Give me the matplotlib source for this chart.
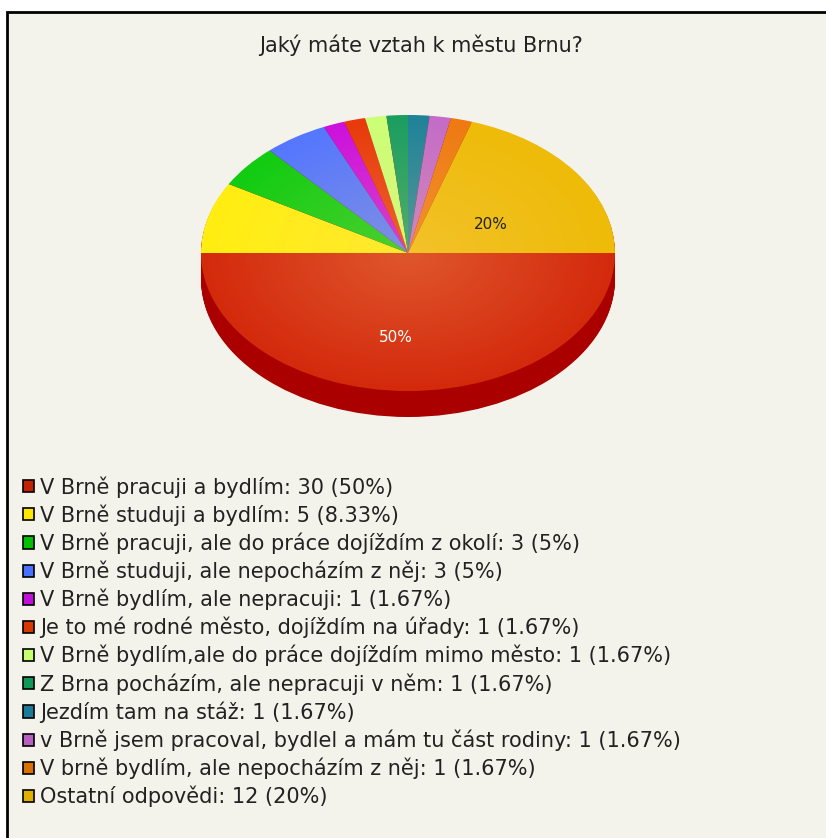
import numpy as np
import matplotlib.pyplot as plt
from matplotlib.patches import Rectangle, Circle

plt.rcParams['font.family'] = ['DejaVu Sans']

title = 'Jaký máte vztah k městu Brnu?'
answers = ['V Brně pracuji a bydlím', 'V Brně studuji a bydlím',
           'V Brně pracuji, ale do práce dojíždím z okolí',
           'V Brně studuji, ale nepocházím z něj', 'V Brně bydlím, ale nepracuji',
           'Je to mé rodné město, dojíždím na úřady',
           'V Brně bydlím,ale do práce dojíždím mimo město',
           'Z Brna pocházím, ale nepracuji v něm', 'Jezdím tam na stáž',
           'v Brně jsem pracoval, bydlel a mám tu část rodiny',
           'V brně bydlím, ale nepocházím z něj', 'Ostatní odpovědi']
counts = [30, 5, 3, 3, 1, 1, 1, 1, 1, 1, 1, 12]
percents = ['50%', '8.33%', '5%', '5%', '1.67%', '1.67%', '1.67%', '1.67%',
            '1.67%', '1.67%', '1.67%', '20%']
colors = ['#d42a0c', '#ffee11', '#11cc11', '#5577ff', '#cc11dd', '#e83a0c',
          '#ccff77', '#1a9e60', '#1f8299', '#c46cc8', '#ee7a11', '#eebb08']
legend_colors = ['#c42000', '#ffe600', '#00c000', '#4a70ff', '#c010d8', '#d83800',
                 '#c8ff70', '#109858', '#1a7a98', '#b860c0', '#d87000', '#e0b000']

fig = plt.figure(figsize=(8.26, 8.38), dpi=100)
fig.patch.set_facecolor('white')
# chart frame
fig.patches.append(Rectangle((7 / 826, -0.1), 1.2, 1 - 12 / 838 + 0.1,
                             transform=fig.transFigure, facecolor='#f4f3eb',
                             edgecolor='black', linewidth=2, zorder=-5))

fig.text(421 / 826, 1 - 45 / 838, title, ha='center', va='center',
         fontsize=15, color='#222222')

# pie axes: unit circle -> ellipse
W, H = 826, 838
cx, cy, rx, ry = 408, 253, 207, 138
ax = fig.add_axes([(cx - rx) / W, (H - cy - ry) / H, 2 * rx / W, 2 * ry / H])
ax.set_zorder(2)
depth = 26 / ry

# side of the pie (layers shifted down)
n = 30
for i in range(n, 0, -1):
    ax.pie(counts, colors=['#aa0000'] * len(counts),
           startangle=0, counterclock=False, center=(0, -depth * i / n),
           radius=1, wedgeprops=dict(linewidth=0))

wedges, texts, autotexts = ax.pie(
    counts, colors=colors, startangle=0, counterclock=False,
    autopct=lambda p: f'{p:.0f}%' if p >= 15 else '', pctdistance=0.58,
    radius=1, wedgeprops=dict(linewidth=0), textprops=dict(fontsize=11))
for t, c in zip(autotexts, counts):
    t.set_zorder(10)
    t.set_color('white' if c == max(counts) else '#222222')
autotexts[0].set_position((-0.06, -0.61))
autotexts[-1].set_position((0.40, 0.21))

# soft radial highlight on the top face
yy, xx = np.mgrid[-1:1:300j, -1:1:300j]
r = np.sqrt(xx ** 2 + yy ** 2)
glow = np.zeros((300, 300, 4))
glow[..., 0] = 1.0
glow[..., 1] = 0.85
glow[..., 2] = 0.55
glow[..., 3] = np.clip(0.26 * (1 - r), 0, 1)
im = ax.imshow(glow, extent=(-1, 1, -1, 1), origin='lower', zorder=5,
               interpolation='bilinear')
clip = Circle((0, 0), 1, transform=ax.transData)
im.set_clip_path(clip)

ax.set_aspect('auto')
ax.set_xlim(-1, 1)
ax.set_ylim(-1 - depth, 1)
ax.set_position([(cx - rx) / W, (H - cy - ry - 26) / H, 2 * rx / W, (2 * ry + 26) / H])
ax.axis('off')

handles = [Rectangle((0, 0), 1, 1, facecolor=c, edgecolor='black', linewidth=1.2)
           for c in legend_colors]
labels = [f'{a}: {c} ({p})' for a, c, p in zip(answers, counts, percents)]
leg = fig.legend(handles, labels, loc='upper left',
                 bbox_to_anchor=(23 / W, 1 - 476 / H), frameon=False,
                 fontsize=15, handlelength=0.52, handleheight=0.52,
                 handletextpad=0.3, labelspacing=0.32, borderpad=0,
                 borderaxespad=0)
for t in leg.get_texts():
    t.set_color('#222222')

fig.savefig('out.png', dpi=100, facecolor=fig.get_facecolor())
